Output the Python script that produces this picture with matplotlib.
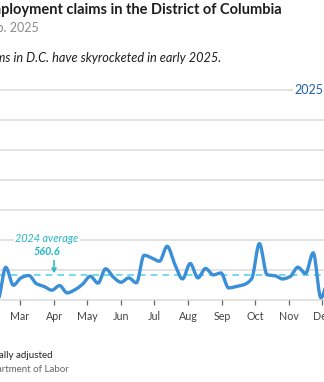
import numpy as np
import pandas as pd
import matplotlib
matplotlib.use("Agg")
import matplotlib.pyplot as plt

# ---------------- data ----------------
week_ending = ["2024-02-03", "2024-02-10", "2024-02-17", "2024-02-24", "2024-03-02", "2024-03-09",
               "2024-03-16", "2024-03-23", "2024-03-30", "2024-04-06", "2024-04-13", "2024-04-20",
               "2024-04-27", "2024-05-04", "2024-05-11", "2024-05-18", "2024-05-25", "2024-06-01",
               "2024-06-08", "2024-06-15", "2024-06-22", "2024-06-29", "2024-07-06", "2024-07-13",
               "2024-07-20", "2024-07-27", "2024-08-03", "2024-08-10", "2024-08-17", "2024-08-24",
               "2024-08-31", "2024-09-07", "2024-09-14", "2024-09-21", "2024-09-28", "2024-10-05",
               "2024-10-12", "2024-10-19", "2024-10-26", "2024-11-02", "2024-11-09", "2024-11-16",
               "2024-11-23", "2024-11-30", "2024-12-07"]
claims_2024 = [470, 405, 615, 495, 545, 560, 505, 487, 462, 493, 444, 465,
               502, 555, 509, 605, 549, 515, 544, 511, 695, 677, 655, 755,
               635, 537, 640, 544, 607, 564, 577, 477, 487, 499, 539, 773,
               565, 559, 537, 553, 615, 573, 711, 411, 560]
avg_2024 = 560.6
months = ["Jan", "Feb", "Mar", "Apr", "May", "Jun", "Jul", "Aug", "Sep", "Oct", "Nov", "Dec"]
y_grid = [400, 600, 800, 1000, 1200, 1400, 1600, 1800]

title = "Unemployment claims in the District of Columbia"
subtitle = "Jan. 2024 to Feb. 2025"
dek = "Unemployment claims in D.C. have skyrocketed in early 2025."
note = "Note: Seasonally adjusted"
source = "Source: U.S. Department of Labor"

# ---------------- helpers ----------------
def monotone(x, y, n=12):
    x = np.asarray(x, float); y = np.asarray(y, float)
    h = np.diff(x); d = np.diff(y) / h
    m = np.zeros_like(y)
    m[0], m[-1] = d[0], d[-1]
    for i in range(1, len(y) - 1):
        if d[i - 1] * d[i] <= 0:
            m[i] = 0
        else:
            w1 = 2 * h[i] + h[i - 1]; w2 = h[i] + 2 * h[i - 1]
            m[i] = (w1 + w2) / (w1 / d[i - 1] + w2 / d[i])
    xs, ys = [], []
    for i in range(len(h)):
        t = np.linspace(0, 1, n, endpoint=False)
        h00 = 2*t**3 - 3*t**2 + 1; h10 = t**3 - 2*t**2 + t
        h01 = -2*t**3 + 3*t**2; h11 = t**3 - t**2
        xs.append(x[i] + t * h[i])
        ys.append(h00*y[i] + h10*h[i]*m[i] + h01*y[i+1] + h11*h[i]*m[i+1])
    xs.append([x[-1]]); ys.append([y[-1]])
    return np.concatenate(xs), np.concatenate(ys)

W, H = 324, 382
fig = plt.figure(figsize=(W / 100, H / 100), dpi=100)
plt.rcParams['font.family'] = ['Lato', 'DejaVu Sans']

def fx(px): return px / W
def fy(py): return 1 - py / H

# axes: day-of-year 0..366 ; Mar 1 (day 60) at px 20, Dec 1 (day 335) at px 322
ppd = (322 - 20) / (335 - 60)
x0 = 20 - 60 * ppd
x1 = 20 + (366 - 60) * ppd
ytop, ybot = 89.5, 299.5
ax = fig.add_axes([fx(x0), fy(ybot), fx(x1 - x0), (ybot - ytop) / H])
ax.set_xlim(0, 366)
ax.set_ylim(400, 1800)
for s in ax.spines.values():
    s.set_visible(False)
ax.set_facecolor("none")

for v in y_grid:
    ax.axhline(v, color="#e2e2e2", lw=1.4, zorder=1, clip_on=False)

dates = pd.to_datetime(week_ending)
doy = (dates - pd.Timestamp("2024-01-01")).days.values.astype(float)
sx, sy = monotone(doy, claims_2024)
ax.plot(sx, sy, color="#3a8fd7", lw=2.4, zorder=3, solid_capstyle="round", clip_on=False)

ax.axhline(avg_2024, color="#5ed3ea", lw=1.2, ls=(0, (4, 3)), zorder=2)

month_starts = (pd.date_range("2024-01-01", periods=12, freq="MS") - pd.Timestamp("2024-01-01")).days.values
# Jan and Feb fall outside the visible frame
ax.set_xticks(month_starts[2:])
ax.set_xticklabels(months[2:], fontsize=7.7, color="#444444")
ax.tick_params(axis="x", length=3.5, width=0.9, color="#666666", pad=5)
ax.set_yticks([])

# annotation
apr1 = month_starts[3]
ax.annotate("", xy=(apr1, avg_2024 + 14), xytext=(apr1, avg_2024 + 100),
            arrowprops=dict(arrowstyle="->", color="#22b8c2", lw=1.1, mutation_scale=7,
                            shrinkA=0, shrinkB=0))
ax.text(apr1 - 6.5, 719, f"{avg_2024:.1f}", ha="center", va="center", fontsize=7.8,
        fontweight="bold", style="italic", color="#22b8c2")
ax.text(apr1 - 6.5, 810, "2024 average", ha="center", va="center", fontsize=7.8,
        style="italic", color="#22b8c2",
        bbox=dict(boxstyle="square,pad=0.15", fc="white", ec="none"), zorder=4)

# 2025 label
fig.text(fx(323.5), fy(90.5), "2025", ha="right", va="center", fontsize=9, color="#1f5fa8",
         bbox=dict(boxstyle="square,pad=0.12", fc="white", ec="none"))

# header texts
fig.text(fx(282), fy(14), title, ha="right", va="baseline", fontsize=10.5,
         fontweight="bold", color="#1e1e1e")
fig.text(fx(39), fy(31.5), subtitle, ha="right", va="baseline", fontsize=9, color="#8a8a8a")
fig.text(fx(221.5), fy(61.5), dek, ha="right", va="baseline", fontsize=9.2,
         style="italic", color="#1e1e1e")

# footer
fig.text(fx(52.7), fy(358), note, ha="right", va="baseline", fontsize=7, color="#222222")
fig.text(fx(68.3), fy(372.5), source, ha="right", va="baseline", fontsize=7, color="#666666")

fig.savefig("out.png", dpi=100, facecolor="white")
